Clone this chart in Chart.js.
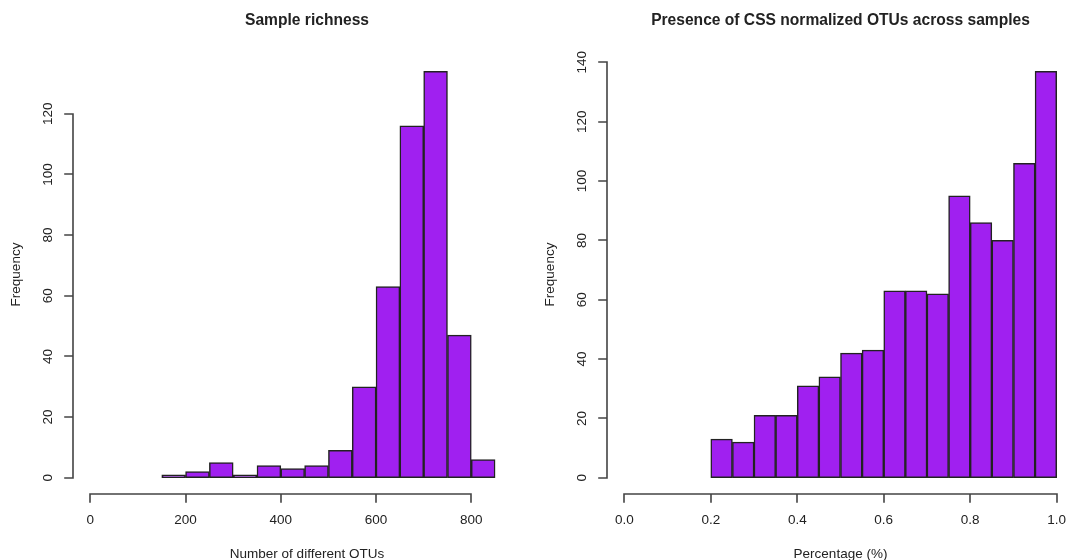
<!DOCTYPE html>
<html>
<head>
<meta charset="utf-8">
<title>Sample richness / OTU presence</title>
<script src="https://cdn.jsdelivr.net/npm/chart.js@4.4.1/dist/chart.umd.min.js"></script>
<style>
  html, body { margin: 0; padding: 0; background: #fff; }
  #wrap { position: relative; width: 1091px; height: 560px; }
  canvas { position: absolute; top: 0; }
  #leftChart { left: 0; }
  #rightChart { left: 545px; }
</style>
</head>
<body>
<div id="wrap">
  <canvas id="leftChart" width="545" height="560"></canvas>
  <canvas id="rightChart" width="546" height="560"></canvas>
</div>
<script>
// Histogram data (bin breaks + counts)
const richnessBreaks = [150, 200, 250, 300, 350, 400, 450, 500, 550, 600, 650, 700, 750, 800, 850];
const richnessCounts = [1, 2, 5, 1, 4, 3, 4, 9, 30, 63, 116, 134, 47, 6];
const richnessXTicks = [0, 200, 400, 600, 800];
const richnessYTicks = [0, 20, 40, 60, 80, 100, 120];

const presenceBreaks = [0.2, 0.25, 0.3, 0.35, 0.4, 0.45, 0.5, 0.55, 0.6, 0.65, 0.7, 0.75, 0.8, 0.85, 0.9, 0.95, 1.0];
const presenceCounts = [13, 12, 21, 21, 31, 34, 42, 43, 63, 63, 62, 95, 86, 80, 106, 137];
const presenceXTicks = [0, 0.2, 0.4, 0.6, 0.8, 1.0];
const presenceYTicks = [0, 20, 40, 60, 80, 100, 120, 140];

const FONT = '"Liberation Sans", Arial, Helvetica, sans-serif';
const TEXT = '#222';
const LINE = '#444';

// turn breaks + counts into {x: mid, y: count}
function toBars(breaks, counts) {
    return counts.map((c, i) => ({ x: (breaks[i] + breaks[i + 1]) / 2, y: c }));
}

// R base-graphics style axes, drawn off the chart's own scales
const rAxes = {
    id: 'rAxes',
    afterDraw(chart, args, opts) {
        const { ctx, chartArea: area, scales: { x, y } } = chart;
        ctx.save();
        ctx.strokeStyle = LINE;
        ctx.lineWidth = 1.6;
        ctx.lineCap = 'square';
        ctx.fillStyle = TEXT;

        // y axis
        const yt = opts.yTicks;
        const ax = Math.round(area.left);
        ctx.beginPath();
        ctx.moveTo(ax, Math.round(y.getPixelForValue(yt[0])));
        ctx.lineTo(ax, Math.round(y.getPixelForValue(yt[yt.length - 1])));
        yt.forEach(v => {
            const py = Math.round(y.getPixelForValue(v));
            ctx.moveTo(ax, py);
            ctx.lineTo(ax - 8, py);
        });
        ctx.stroke();

        ctx.font = '13.5px ' + FONT;
        ctx.textAlign = 'center';
        ctx.textBaseline = 'middle';
        yt.forEach(v => {
            ctx.save();
            ctx.translate(area.left - 25, y.getPixelForValue(v));
            ctx.rotate(-Math.PI / 2);
            ctx.fillText(String(v), 0, 0);
            ctx.restore();
        });

        // x axis
        const xt = opts.xTicks;
        const ay = Math.round(area.bottom);
        ctx.beginPath();
        ctx.moveTo(Math.round(x.getPixelForValue(xt[0])), ay);
        ctx.lineTo(Math.round(x.getPixelForValue(xt[xt.length - 1])), ay);
        xt.forEach(v => {
            const px = Math.round(x.getPixelForValue(v));
            ctx.moveTo(px, ay);
            ctx.lineTo(px, ay + 8);
        });
        ctx.stroke();
        xt.forEach(v => {
            ctx.fillText(opts.fmt(v), x.getPixelForValue(v), area.bottom + 26);
        });

        // axis titles
        const cx = (area.left + area.right) / 2;
        ctx.fillText(opts.xTitle, cx, area.bottom + 60);
        ctx.save();
        ctx.translate(area.left - 57, (area.top + area.bottom) / 2);
        ctx.rotate(-Math.PI / 2);
        ctx.fillText('Frequency', 0, 0);
        ctx.restore();

        // main title
        ctx.font = 'bold 15.6px ' + FONT;
        ctx.fillText(opts.title, cx, 21);
        ctx.restore();
    }
};

function makeHist(id, breaks, counts, cfg) {
    const ctx = document.getElementById(id).getContext('2d');
    const yMax = Math.max(...counts);
    return new Chart(ctx, {
        type: 'bar',
        data: {
            datasets: [{
                data: toBars(breaks, counts),
                backgroundColor: '#A020F0',
                borderColor: '#222',
                borderWidth: 1.5,
                borderSkipped: false,
                barPercentage: 1,
                categoryPercentage: 1
            }]
        },
        options: {
            responsive: false,
            animation: false,
            devicePixelRatio: 1,
            layout: { padding: cfg.padding },
            plugins: {
                legend: { display: false },
                tooltip: { enabled: false },
                rAxes: {
                    xTicks: cfg.xTicks,
                    yTicks: cfg.yTicks,
                    fmt: cfg.fmt,
                    xTitle: cfg.xTitle,
                    title: cfg.title
                }
            },
            scales: {
                x: { type: 'linear', display: false, min: cfg.xMin, max: cfg.xMax, offset: false },
                y: { display: false, min: -0.04 * yMax, max: 1.04 * yMax }
            }
        },
        plugins: [rAxes]
    });
}

makeHist('leftChart', richnessBreaks, richnessCounts, {
    xMin: -36.4, xMax: 946.4,
    xTicks: richnessXTicks, yTicks: richnessYTicks,
    fmt: v => String(v),
    xTitle: 'Number of different OTUs',
    title: 'Sample richness',
    padding: { left: 73, right: 4, top: 55, bottom: 66 }
});

makeHist('rightChart', presenceBreaks, presenceCounts, {
    xMin: -0.04, xMax: 1.04,
    xTicks: presenceXTicks, yTicks: presenceYTicks,
    fmt: v => v.toFixed(1),
    xTitle: 'Percentage (%)',
    title: 'Presence of CSS normalized OTUs across samples',
    padding: { left: 62, right: 17, top: 55, bottom: 66 }
});
</script>
</body>
</html>
